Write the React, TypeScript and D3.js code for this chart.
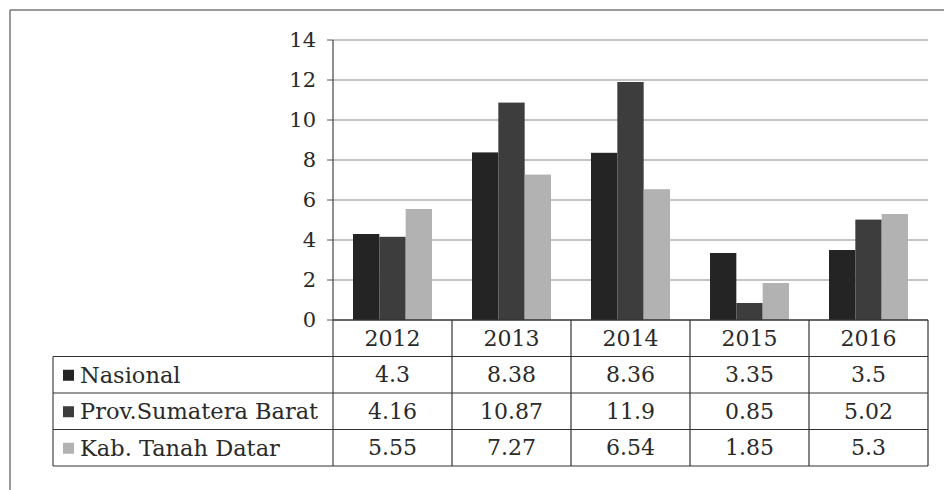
import React from "react";
import * as d3 from "d3";

const years = ["2012", "2013", "2014", "2015", "2016"];
const seriesNames = ["Nasional", "Prov.Sumatera Barat", "Kab. Tanah Datar"];
const nasional = [4.3, 8.38, 8.36, 3.35, 3.5];
const sumbar = [4.16, 10.87, 11.9, 0.85, 5.02];
const tanahDatar = [5.55, 7.27, 6.54, 1.85, 5.3];
const yTicks = [0, 2, 4, 6, 8, 10, 12, 14];

const seriesValues = [nasional, sumbar, tanahDatar];
const colors = ["#242424", "#3d3d3d", "#b2b2b2"];
const font = "'DejaVu Serif', serif";

export default function App() {
  const left = 333,
    right = 928,
    top = 40,
    bottom = 320,
    rowH = 36.5,
    tableLeft = 53;

  const x = d3.scaleBand().domain(years).range([left, right]);
  const x1 = d3
    .scaleBand()
    .domain(seriesNames)
    .range([20, x.bandwidth() - 20]);
  const y = d3.scaleLinear().domain([0, 14]).range([bottom, top]);

  const headerBottom = bottom + rowH;
  const tableBottom = headerBottom + rowH * seriesNames.length;

  return (
    <svg
      width={944}
      height={490}
      style={{ position: "absolute", left: 0, top: 0, background: "#fff" }}
    >
      {/* outer frame */}
      <line x1={10} y1={10} x2={944} y2={10} stroke="#777" strokeWidth={1.5} />
      <line x1={10} y1={10} x2={10} y2={490} stroke="#777" strokeWidth={1.5} />

      {/* grid and y ticks */}
      {yTicks.map(t => (
        <g key={t}>
          {t > 0 && (
            <line x1={left} x2={right} y1={y(t)} y2={y(t)} stroke="#8a8a8a" strokeWidth={1.2} />
          )}
          <line x1={left - 6} x2={left} y1={y(t)} y2={y(t)} stroke="#555" />
          <text
            x={316}
            y={y(t)}
            dy="0.35em"
            textAnchor="end"
            fontFamily={font}
            fontSize={21}
            fill="#2a2a2a"
          >
            {t}
          </text>
        </g>
      ))}
      <line x1={left} x2={left} y1={top} y2={tableBottom} stroke="#444" strokeWidth={1.2} />

      {/* bars */}
      {years.map((yr, i) => (
        <g key={yr} transform={`translate(${x(yr)},0)`}>
          {seriesNames.map((s, j) => (
            <rect
              key={s}
              x={x1(s)}
              y={y(seriesValues[j][i])}
              width={x1.bandwidth()}
              height={bottom - y(seriesValues[j][i])}
              fill={colors[j]}
            />
          ))}
        </g>
      ))}

      {/* data table */}
      <line x1={left} x2={right} y1={bottom} y2={bottom} stroke="#333" strokeWidth={1.3} />
      {years.map(yr => (
        <g key={yr}>
          <line
            x1={(x(yr) as number) + x.bandwidth()}
            x2={(x(yr) as number) + x.bandwidth()}
            y1={bottom}
            y2={tableBottom}
            stroke="#333"
            strokeWidth={1.2}
          />
          <text
            x={(x(yr) as number) + x.bandwidth() / 2}
            y={bottom + rowH / 2}
            dy="0.35em"
            textAnchor="middle"
            fontFamily={font}
            fontSize={22}
            fill="#2a2a2a"
          >
            {yr}
          </text>
        </g>
      ))}
      <line x1={tableLeft} x2={tableLeft} y1={headerBottom} y2={tableBottom} stroke="#444" strokeWidth={1.2} />
      {seriesNames.map((s, j) => {
        const ry = headerBottom + rowH * j;
        return (
          <g key={s}>
            <line x1={tableLeft} x2={right} y1={ry} y2={ry} stroke="#333" strokeWidth={1.2} />
            <rect x={tableLeft + 10} y={ry + rowH / 2 - 5} width={11} height={11} fill={colors[j]} />
            <text
              x={tableLeft + 27}
              y={ry + rowH / 2}
              dy="0.35em"
              fontFamily={font}
              fontSize={22.5}
              fill="#2a2a2a"
            >
              {s}
            </text>
            {years.map((yr, i) => (
              <text
                key={yr}
                x={(x(yr) as number) + x.bandwidth() / 2}
                y={ry + rowH / 2}
                dy="0.35em"
                textAnchor="middle"
                fontFamily={font}
                fontSize={22}
                fill="#2a2a2a"
              >
                {seriesValues[j][i]}
              </text>
            ))}
          </g>
        );
      })}
      <line x1={tableLeft} x2={right} y1={tableBottom} y2={tableBottom} stroke="#333" strokeWidth={1.2} />
    </svg>
  );
}
